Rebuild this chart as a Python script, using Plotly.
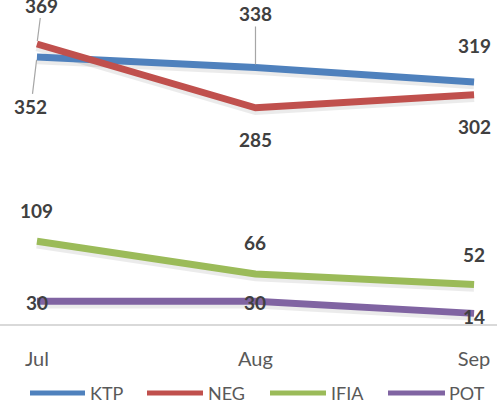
import plotly.graph_objects as go

months = ["Jul", "Aug", "Sep"]
ktp = [352, 338, 319]
neg = [369, 285, 302]
ifia = [109, 66, 52]
pot = [30, 30, 14]

series = [
    ("KTP", ktp, "#4f81bd"),
    ("NEG", neg, "#c0504d"),
    ("IFIA", ifia, "#9bbb59"),
    ("POT", pot, "#8064a2"),
]

# label placement per series and point: (dx px, dy px, leader line?)
label_pos = {
    "KTP": [(-6, 50, True), (0, -54, True), (0, -36, False)],
    "NEG": [(5, -39, True), (0, 32, False), (0, 32, False)],
    "IFIA": [(0, -31, False), (0, -31, False), (0, -30, False)],
    "POT": [(0, 1, False), (0, 1, False), (0, 3, False)],
}

# hand-made legend: line start/end and text start, in px
legend_x = [(30, 85, 88), (147, 203, 206), (270, 326, 329), (388, 445, 447)]
legend_y = 393
W, H = 497, 407
B = 83

font = "Lato, Calibri, sans-serif"
fig = go.Figure()

# soft drop shadow under each line
for name, vals, color in series:
    fig.add_trace(go.Scatter(
        x=months, y=[v - 3 for v in vals], mode="lines",
        line=dict(color="rgba(0,0,0,0.08)", width=10),
        showlegend=False, hoverinfo="skip"))

for name, vals, color in series:
    fig.add_trace(go.Scatter(
        x=months, y=vals, mode="lines", name=name,
        line=dict(color=color, width=7), showlegend=False))

for name, vals, color in series:
    for m, v, (dx, dy, leader) in zip(months, vals, label_pos[name]):
        if leader:
            fig.add_annotation(
                x=m, y=v, text="<b>%d</b>" % v, showarrow=True,
                ax=dx, ay=dy, arrowhead=0, arrowwidth=1.2,
                arrowcolor="#a6a6a6", standoff=3,
                font=dict(family=font, size=19, color="#404040"))
        else:
            fig.add_annotation(
                x=m, y=v, text="<b>%d</b>" % v, showarrow=False,
                xshift=dx, yshift=-dy,
                font=dict(family=font, size=19, color="#404040"))

ph = H - B
ly = (ph - legend_y) / ph
for (name, vals, color), (x0, x1, xt) in zip(series, legend_x):
    fig.add_shape(type="line", xref="paper", yref="paper",
                  x0=x0 / W, x1=x1 / W, y0=ly, y1=ly,
                  line=dict(color=color, width=5))
    fig.add_annotation(xref="paper", yref="paper", x=xt / W, y=ly,
                       xanchor="left", yanchor="middle", showarrow=False,
                       text=name, font=dict(family=font, size=18, color="#595959"))

fig.update_layout(
    width=W, height=H,
    margin=dict(l=0, r=0, t=0, b=B),
    plot_bgcolor="white", paper_bgcolor="white",
    font=dict(family=font, color="#595959"),
    xaxis=dict(
        type="category", range=[-0.169, 2.105],
        showgrid=False, showline=True, linecolor="#d9d9d9", linewidth=2,
        ticks="", ticklabelstandoff=16,
        tickfont=dict(family=font, size=20, color="#595959")),
    yaxis=dict(range=[0, 427], visible=False, showgrid=False, zeroline=False),
    showlegend=False,
)

fig.write_html("out.html", config={"displayModeBar": False},
               post_script="document.body.style.margin='0';")
